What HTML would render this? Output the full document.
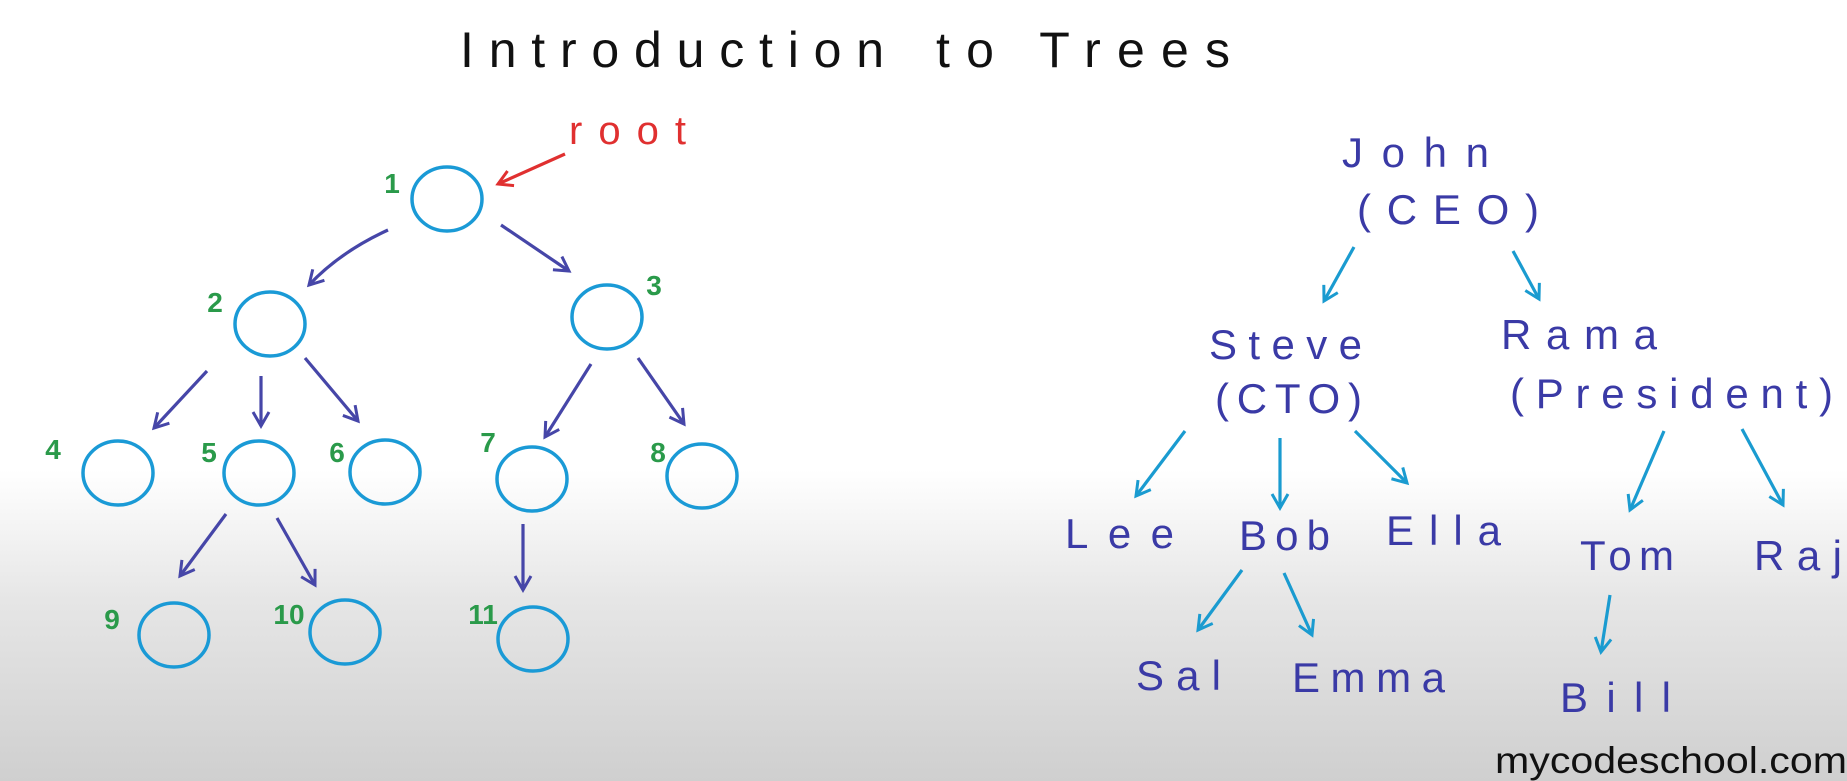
<!DOCTYPE html>
<html><head><meta charset="utf-8"><style>
html,body{margin:0;padding:0}
body{width:1847px;height:781px;overflow:hidden;background:linear-gradient(to bottom,#fff 0px,#fff 470px,#e6e6e6 600px,#cfcfcf 781px)}
svg{position:absolute;left:0;top:0}
text{font-family:"Liberation Sans",sans-serif}
</style></head><body>
<svg width="1847" height="781" viewBox="0 0 1847 781">
<defs>
<marker id="mp" viewBox="0 0 16 16" refX="15" refY="8" markerWidth="16" markerHeight="16" orient="auto" markerUnits="userSpaceOnUse" style="overflow:visible">
<path d="M1,0 L15,8 L1,16" fill="none" stroke="#4646a8" stroke-width="3"/></marker>
<marker id="mc" viewBox="0 0 16 16" refX="15" refY="8" markerWidth="16" markerHeight="16" orient="auto" markerUnits="userSpaceOnUse" style="overflow:visible">
<path d="M1,0 L15,8 L1,16" fill="none" stroke="#1a9bd0" stroke-width="3"/></marker>
<marker id="mr" viewBox="0 0 16 16" refX="15" refY="8" markerWidth="16" markerHeight="16" orient="auto" markerUnits="userSpaceOnUse" style="overflow:visible">
<path d="M1,0 L15,8 L1,16" fill="none" stroke="#e03030" stroke-width="3"/></marker>
</defs>
<text x="460" y="67" font-size="50" fill="#111" textLength="424" lengthAdjust="spacing">Introduction</text>
<text x="936" y="67" font-size="50" fill="#111" textLength="294" lengthAdjust="spacing">to  Trees</text>
<g fill="none" stroke="#1a9ad6" stroke-width="3.5">
<ellipse cx="447" cy="199" rx="35" ry="32"/>
<ellipse cx="270" cy="324" rx="35" ry="32"/>
<ellipse cx="607" cy="317" rx="35" ry="32"/>
<ellipse cx="118" cy="473" rx="35" ry="32"/>
<ellipse cx="259" cy="473" rx="35" ry="32"/>
<ellipse cx="385" cy="472" rx="35" ry="32"/>
<ellipse cx="532" cy="479" rx="35" ry="32"/>
<ellipse cx="702" cy="476" rx="35" ry="32"/>
<ellipse cx="174" cy="635" rx="35" ry="32"/>
<ellipse cx="345" cy="632" rx="35" ry="32"/>
<ellipse cx="533" cy="639" rx="35" ry="32"/>
</g>
<g fill="#2a9a4a" font-size="28" font-weight="bold" text-anchor="middle">
<text x="392" y="193">1</text><text x="215" y="312">2</text><text x="654" y="295">3</text>
<text x="53" y="459">4</text><text x="209" y="462">5</text><text x="337" y="462">6</text>
<text x="488" y="452">7</text><text x="658" y="462">8</text><text x="112" y="629">9</text>
<text x="289" y="624">10</text><text x="483" y="624">11</text>
</g>
<g stroke="#4646a8" stroke-width="3.2" fill="none" marker-end="url(#mp)">
<path d="M388,230 Q340,252 309,285"/>
<path d="M501,225 L569,271"/>
<path d="M207,371 L154,428"/>
<path d="M261,376 L261,426"/>
<path d="M305,358 L358,421"/>
<path d="M591,364 L545,437"/>
<path d="M638,358 L684,424"/>
<path d="M226,514 L180,576"/>
<path d="M277,518 L315,585"/>
<path d="M523,524 L523,590"/>
</g>
<text x="569" y="144" font-size="40" fill="#e03030" textLength="117" lengthAdjust="spacing">root</text>
<path d="M565,154 L498,184" stroke="#e03030" stroke-width="3.2" fill="none" marker-end="url(#mr)"/>
<g fill="#3a3aa6" font-size="42">
<text x="1342" y="167" textLength="147" lengthAdjust="spacing">John</text>
<text x="1357" y="224" textLength="182" lengthAdjust="spacing">(CEO)</text>
<text x="1209" y="359" textLength="153" lengthAdjust="spacing">Steve</text>
<text x="1215" y="413" textLength="147" lengthAdjust="spacing">(CTO)</text>
<text x="1501" y="349" textLength="156" lengthAdjust="spacing">Rama</text>
<text x="1510" y="408" textLength="323" lengthAdjust="spacing">(President)</text>
<text x="1065" y="548" textLength="109" lengthAdjust="spacing">Lee</text>
<text x="1239" y="550" textLength="91" lengthAdjust="spacing">Bob</text>
<text x="1386" y="545" textLength="115" lengthAdjust="spacing">Ella</text>
<text x="1580" y="570" textLength="94" lengthAdjust="spacing">Tom</text>
<text x="1754" y="570" textLength="88" lengthAdjust="spacing">Raj</text>
<text x="1136" y="690" textLength="85" lengthAdjust="spacing">Sal</text>
<text x="1292" y="692" textLength="153" lengthAdjust="spacing">Emma</text>
<text x="1560" y="712" textLength="111" lengthAdjust="spacing">Bill</text>
</g>
<g stroke="#1a9bd0" stroke-width="3.2" fill="none" marker-end="url(#mc)">
<path d="M1354,247 L1324,301"/>
<path d="M1513,251 L1539,299"/>
<path d="M1185,431 L1136,496"/>
<path d="M1280,438 L1280,508"/>
<path d="M1355,431 L1407,483"/>
<path d="M1664,431 L1630,510"/>
<path d="M1742,429 L1783,505"/>
<path d="M1242,570 L1198,630"/>
<path d="M1284,573 L1312,635"/>
<path d="M1610,595 L1601,652"/>
</g>
<text x="1495" y="773" font-size="37" fill="#111" textLength="352" lengthAdjust="spacingAndGlyphs">mycodeschool.com</text>
</svg>
</body></html>
